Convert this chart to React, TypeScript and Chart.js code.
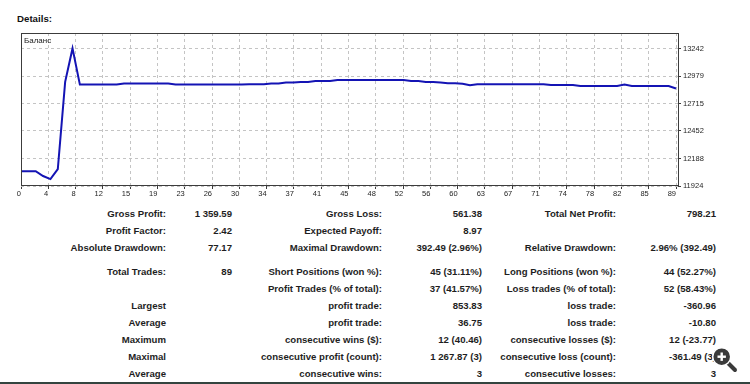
import React, { useEffect, useRef } from "react";
import { Chart, registerables } from "chart.js";

Chart.register(...registerables);

// ---------- chart data ----------
const seriesName = "Баланс";
const balance = [
  12066, 12066, 12066, 12020, 11990, 12085, 12923, 13244,
  12897, 12897, 12897, 12897, 12897, 12897,
  12907, 12907, 12907, 12907, 12907, 12907, 12907,
  12897, 12897, 12897, 12897, 12897, 12897, 12897, 12897, 12897, 12897,
  12900, 12900, 12900,
  12907, 12907,
  12917, 12917,
  12923, 12923,
  12932, 12932, 12932,
  12942, 12942, 12942, 12942, 12942, 12942, 12942, 12942, 12942, 12942,
  12932, 12932,
  12923, 12923,
  12917,
  12910, 12910,
  12906,
  12891,
  12901, 12901, 12901, 12901, 12901, 12901, 12901, 12901, 12901, 12901,
  12894, 12894, 12894, 12894,
  12884, 12884, 12884, 12884, 12884, 12884,
  12897,
  12884, 12884, 12884, 12884, 12884, 12884,
  12859,
];
const xTickLabels = [
  "0", "4", "8", "12", "15", "19", "23", "26", "30", "34", "37", "41", "45",
  "48", "52", "56", "60", "63", "67", "71", "74", "78", "82", "85", "89",
];
const yTickValues = [11924, 12188, 12452, 12715, 12979, 13242];

// ---------- table data ----------
const headerText = "Details:";
const col1Labels = ["Gross Profit:", "Profit Factor:", "Absolute Drawdown:", "Total Trades:", "", "Largest", "Average", "Maximum", "Maximal", "Average"];
const col1Values = ["1 359.59", "2.42", "77.17", "89", "", "", "", "", "", ""];
const col2Labels = ["Gross Loss:", "Expected Payoff:", "Maximal Drawdown:", "Short Positions (won %):", "Profit Trades (% of total):", "profit trade:", "profit trade:", "consecutive wins ($):", "consecutive profit (count):", "consecutive wins:"];
const col2Values = ["561.38", "8.97", "392.49 (2.96%)", "45 (31.11%)", "37 (41.57%)", "853.83", "36.75", "12 (40.46)", "1 267.87 (3)", "3"];
const col3Labels = ["Total Net Profit:", "", "Relative Drawdown:", "Long Positions (won %):", "Loss trades (% of total):", "loss trade:", "loss trade:", "consecutive losses ($):", "consecutive loss (count):", "consecutive losses:"];
const col3Values = ["798.21", "", "2.96% (392.49)", "44 (52.27%)", "52 (58.43%)", "-360.96", "-10.80", "12 (-23.77)", "-361.49 (3)", "3"];

const FONT = "'Liberation Sans', Arial, sans-serif";
const TEXT = "#1e1e1e";

export default function App() {
  const ref = useRef<HTMLCanvasElement>(null);

  useEffect(() => {
    if (!ref.current) return;
    const frame = {
      id: "frame",
      afterDraw(chart: any) {
        const { ctx, chartArea: a } = chart;
        ctx.save();
        ctx.strokeStyle = "#3c3c3c";
        ctx.lineWidth = 1;
        ctx.strokeRect(
          Math.round(a.left) + 0.5,
          Math.round(a.top) + 0.5,
          Math.round(a.right - a.left),
          Math.round(a.bottom - a.top) - 1
        );
        ctx.restore();
      },
    };
    const chart = new Chart(ref.current, {
      type: "line",
      data: {
        datasets: [
          {
            label: seriesName,
            data: balance.map((v, i) => ({ x: i, y: v })),
            borderColor: "#1414b4",
            borderWidth: 2,
            pointRadius: 0,
            fill: false,
            tension: 0,
          },
        ],
      },
      options: {
        animation: false,
        responsive: false,
        maintainAspectRatio: false,
        layout: { padding: { left: 21, top: 33, right: 0, bottom: 0 } },
        plugins: { legend: { display: false }, tooltip: { enabled: false } },
        scales: {
          x: {
            type: "linear",
            min: 0,
            max: 89.27,
            afterBuildTicks: (s: any) => {
              s.ticks = xTickLabels.map((_, k) => ({ value: (k * (balance.length - 1)) / (xTickLabels.length - 1) }));
            },
            afterFit: (s: any) => {
              s.height = 14;
            },
            ticks: {
              autoSkip: false,
              maxRotation: 0,
              align: "end",
              padding: 0,
              color: TEXT,
              font: { family: FONT, size: 7.5 },
              callback: (_v: any, i: number) => xTickLabels[i],
            },
            grid: {
              color: "#c4c4c4",
              tickColor: "#3c3c3c",
              tickLength: 3,
            },
            border: { display: false, dash: [3, 3] },
          },
          y: {
            type: "linear",
            position: "right",
            min: 11924,
            max: 13392,
            afterBuildTicks: (s: any) => {
              s.ticks = yTickValues.map((v) => ({ value: v }));
            },
            afterFit: (s: any) => {
              s.width = 72;
            },
            ticks: {
              padding: 2,
              color: TEXT,
              font: { family: FONT, size: 7.5 },
              callback: (v: any) => String(v),
            },
            grid: {
              color: "#c4c4c4",
              tickColor: "#3c3c3c",
              tickLength: 3,
            },
            border: { display: false, dash: [3, 3] },
          },
        },
      },
      plugins: [frame],
    } as any);
    return () => chart.destroy();
  }, []);

  const rowY = [213.5, 230.5, 247.5, 271.5, 288.5, 305.5, 322.5, 339.5, 356.5, 373.5];
  const colRight = [166, 232, 382, 482, 616, 716];
  const cols = [col1Labels, col1Values, col2Labels, col2Values, col3Labels, col3Values];

  return (
    <div
      style={{
        position: "absolute",
        left: 0,
        top: 0,
        width: 750,
        height: 384,
        background: "#ffffff",
        overflow: "hidden",
        fontFamily: FONT,
        color: TEXT,
      }}
    >
      <div
        style={{
          position: "absolute",
          left: 17,
          top: 12,
          fontSize: 9.7,
          fontWeight: "bold",
          lineHeight: "14px",
          color: "#111",
        }}
      >
        {headerText}
      </div>
      <canvas
        ref={ref}
        width={750}
        height={200}
        style={{ position: "absolute", left: 0, top: 0, width: 750, height: 200 }}
      />
      <div
        style={{
          position: "absolute",
          left: 24,
          top: 35,
          fontSize: 8,
          lineHeight: "11px",
          color: "#222",
        }}
      >
        {seriesName}
      </div>
      {cols.map((col, c) =>
        col.map((t, r) =>
          t ? (
            <div
              key={c + "-" + r}
              style={{
                position: "absolute",
                left: colRight[c] - 220,
                width: 220,
                top: rowY[r] - 7,
                height: 14,
                lineHeight: "14px",
                textAlign: "right",
                fontSize: 9.6,
                fontWeight: "bold",
                whiteSpace: "nowrap",
              }}
            >
              {t}
            </div>
          ) : null
        )
      )}
      <svg
        style={{ position: "absolute", left: 710, top: 345 }}
        width={28}
        height={28}
        viewBox="0 0 28 28"
      >
        <line x1={17} y1={17} x2={25} y2={25} stroke="#ffffff" strokeWidth={6} strokeLinecap="round" />
        <line x1={17} y1={17} x2={25} y2={25} stroke="#3a3a3a" strokeWidth={4} strokeLinecap="round" />
        <circle cx={11.7} cy={11.7} r={9} fill="#3a3a3a" stroke="#ffffff" strokeWidth={1.5} />
        <line x1={7.5} y1={11.7} x2={15.9} y2={11.7} stroke="#ffffff" strokeWidth={2.4} />
        <line x1={11.7} y1={7.5} x2={11.7} y2={15.9} stroke="#ffffff" strokeWidth={2.4} />
      </svg>
      <div
        style={{
          position: "absolute",
          left: 0,
          top: 382,
          width: 750,
          height: 2,
          background: "#34443f",
        }}
      />
    </div>
  );
}
